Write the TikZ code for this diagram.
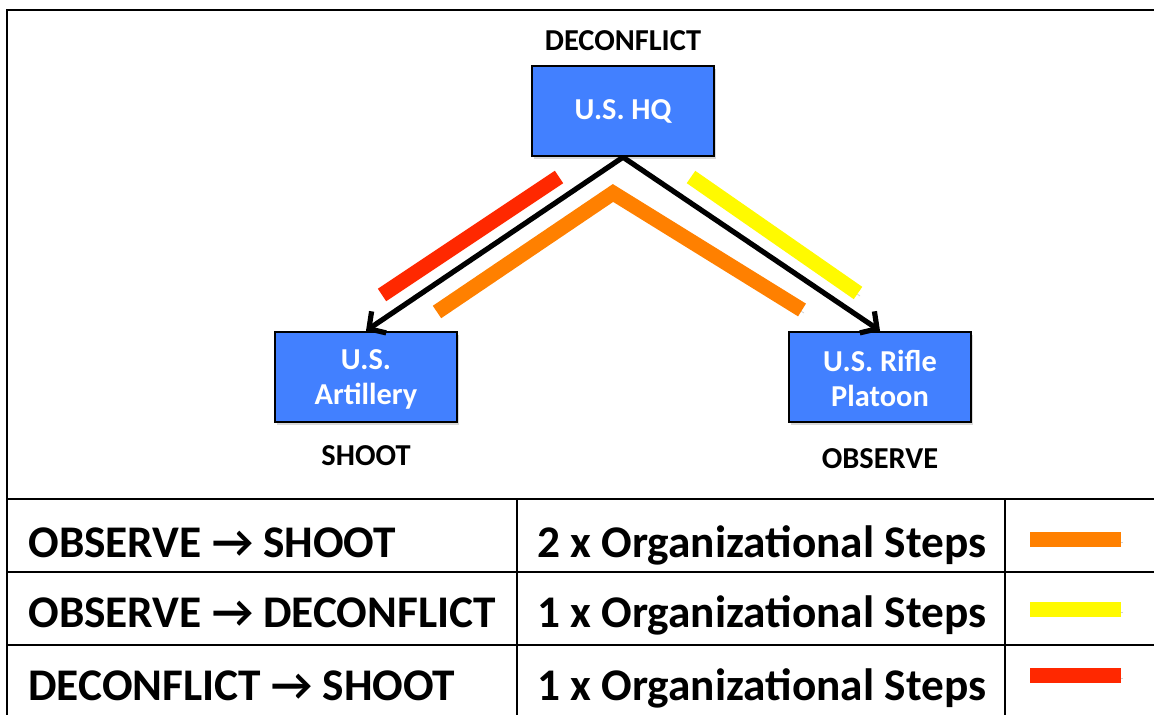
\documentclass[tikz,border=0pt]{standalone}
\usepackage{fontspec}
\setmainfont{Carlito}
\usetikzlibrary{
    positioning,   % above=of, below=of
    arrows.meta,   % Straight Barb
    shadows        % drop shadow on the unit boxes
}
\definecolor{unitblue}{RGB}{66,128,255}
\definecolor{stepred}{RGB}{255,40,0}
\definecolor{steporange}{RGB}{255,128,0}
\definecolor{stepyellow}{RGB}{255,250,0}
\tikzset{
    unit/.style={
        rectangle, draw=black, line width=1.2pt, fill=unitblue,
        text=white, align=center,
        minimum width=91pt, minimum height=45pt,
        font=\bfseries\fontsize{15.2}{17.5}\selectfont,
        drop shadow={shadow xshift=1pt, shadow yshift=-1.5pt, opacity=.3}
    },
    role/.style={
        font=\bfseries\fontsize{15.2}{17}\selectfont, inner sep=0pt
    },
    order/.style={
        -{Straight Barb[length=6pt, width=13pt, line width=2.6pt]}, line width=2.6pt
    },
    stepbar/.style={
        line width=7.5pt, line cap=butt,
        preaction={draw=black, opacity=.18,
            transform canvas={xshift=1pt, yshift=-1.5pt}}
    },
    cell/.style={
        anchor=base west, inner sep=0pt,
        font=\bfseries\fontsize{22.65}{27}\selectfont
    },
    rule/.style={line width=1.3pt}
}

\begin{document}
\begin{tikzpicture}[x=0.5pt, y=-0.5pt]

    \useasboundingbox (0,0) rectangle (1154,715);

    % Cadena de mando
    \node[unit] (hq)    at (623,111) {U.S. HQ};
    \node[unit] (art)   at (366,377) {\strut U.S.\\Artillery};
    \node[unit] (rifle) at (880,377) {\strut U.S. Rifle\\Platoon};

    % Funcion de cada nodo
    \node[role, above=7pt of hq]   (deconflict) {DECONFLICT};
    \node[role, below=11pt of art] (shoot)      {SHOOT};
    \node[role, below=12.5pt of rifle] (observe)    {OBSERVE};

    % Pasos organizativos marcados junto a las flechas
    \draw[stepbar, stepred]    (559,177) -- (382,295);
    \draw[stepbar, steporange, line join=miter] (437,312) -- (613,193) -- (802,310);
    \draw[stepbar, stepyellow] (691,177) -- (858,293);

    \draw[order] (hq.south) -- (art.north);
    \draw[order] (hq.south) -- (rifle.north);

    % Marco y tabla
    \draw[rule] (7,716) -- (7,10) -- (1155,10);
    \foreach \y in {499,572,645}
        \draw[rule] (7,\y) -- (1155,\y);
    \foreach \x in {517,1005}
        \draw[rule] (\x,499) -- (\x,716);

    \node[cell] (path1) at (28,557) {OBSERVE → SHOOT};
    \node[cell] (path2) at (28,627) {OBSERVE → DECONFLICT};
    \node[cell] (path3) at (28,700) {DECONFLICT → SHOOT};

    \node[cell] (count1) at (537,557) {2 x Organizational Steps};
    \node[cell] (count2) at (537,627) {1 x Organizational Steps};
    \node[cell] (count3) at (537,700) {1 x Organizational Steps};

    \draw[stepbar, steporange] (1030,539) -- (1121,539);
    \draw[stepbar, stepyellow] (1030,609) -- (1121,609);
    \draw[stepbar, stepred]    (1030,675) -- (1121,675);

\end{tikzpicture}
\end{document}
